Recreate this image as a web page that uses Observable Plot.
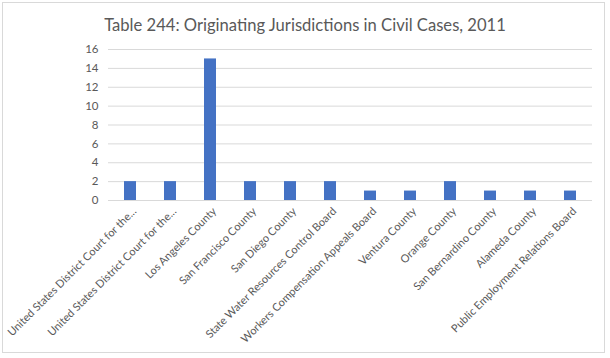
<!DOCTYPE html>
<html>
<head>
<meta charset="utf-8">
<script src="https://cdn.jsdelivr.net/npm/d3@7"></script>
<script src="https://cdn.jsdelivr.net/npm/@observablehq/plot@0.6"></script>
<style>
  html, body { margin: 0; padding: 0; background: #fff; }
  #frame { position: absolute; left: 2px; top: 2px; width: 603px; height: 351px; border: 1px solid #d9d9d9; box-sizing: border-box; }
  #title { position: absolute; left: 0; top: 15px; width: 610px; text-align: center; font-family: Lato, "Open Sans", sans-serif; font-size: 16.6px; color: #595959; }
  #chart { position: absolute; left: 0; top: 40px; }
</style>
</head>
<body>
<div id="frame"></div>
<div id="title">Table 244: Originating Jurisdictions in Civil Cases, 2011</div>
<div id="chart"></div>
<script>
const labels = [
  "United States District Court for the...",
  "United States District Court for the...",
  "Los Angeles County",
  "San Francisco County",
  "San Diego County",
  "State Water Resources Control Board",
  "Workers Compensation Appeals Board",
  "Ventura County",
  "Orange County",
  "San Bernardino County",
  "Alameda County",
  "Public Employment Relations Board"
];
const values = [2, 2, 15, 2, 2, 2, 1, 1, 2, 1, 1, 1];
const yTicks = [0, 2, 4, 6, 8, 10, 12, 14, 16];

const data = labels.map((l, i) => ({i, label: l, value: values[i]}));

const chart = Plot.plot({
  width: 610,
  height: 318,
  marginLeft: 108,
  marginRight: 18,
  marginTop: 9,
  marginBottom: 158,
  style: {fontFamily: "Lato, 'Open Sans', sans-serif", fontSize: "11px", color: "#595959", background: "transparent"},
  x: {type: "band", domain: d3.range(labels.length), paddingInner: 0.7, paddingOuter: 0.35},
  y: {domain: [0, 16]},
  marks: [
    Plot.gridY(yTicks, {stroke: "#d9d9d9", strokeOpacity: 1}),
    Plot.barY(data, {x: "i", y: "value", fill: "#4472c4"}),
    Plot.axisY(yTicks, {tickSize: 0, tickPadding: 10, label: null, fill: "#595959", fontSize: 11.5}),
    Plot.axisX({tickSize: 0, tickPadding: 6, tickRotate: -45, label: null, tickFormat: i => labels[i], fill: "#595959", fontSize: 11, dx: 4, dy: 3})
  ]
});
document.getElementById("chart").appendChild(chart);
</script>
</body>
</html>
